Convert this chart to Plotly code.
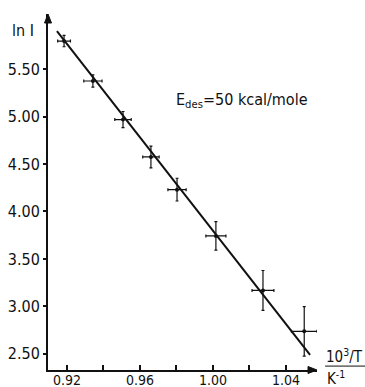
import plotly.graph_objects as go

# data
inv_T = [0.9184, 0.9342, 0.9507, 0.9660, 0.9803, 1.0016, 1.0274, 1.0500]
ln_I = [5.795, 5.374, 4.968, 4.574, 4.230, 3.742, 3.168, 2.737]
err_x = [0.0035, 0.0050, 0.0045, 0.0045, 0.0050, 0.0055, 0.0060, 0.0070]
err_y = [0.060, 0.065, 0.085, 0.115, 0.120, 0.150, 0.210, 0.260]
fit_x = [0.9145, 1.0532]
fit_y = [5.90, 2.49]
y_ticks = [2.5, 3.0, 3.5, 4.0, 4.5, 5.0, 5.5]
y_tick_text = ["2.50", "3.00", "3.50", "4.00", "4.50", "5.00", "5.50"]
x_ticks = [0.92, 0.96, 1.00, 1.04]
x_tick_text = ["0.92", "0.96", "1.00", "1.04"]

FONT = "DejaVu Sans Condensed"
INK = "#111111"
W, H = 365, 387
ML, MR, MT, MB = 48, 48, 14, 17
PW, PH = W - ML - MR, H - MT - MB

fig = go.Figure()
fig.add_trace(go.Scatter(
    x=fit_x, y=fit_y, mode="lines",
    line=dict(color=INK, width=2), showlegend=False, hoverinfo="skip"))
fig.add_trace(go.Scatter(
    x=inv_T, y=ln_I, mode="markers",
    marker=dict(color=INK, size=4),
    error_x=dict(type="data", array=err_x, color=INK, thickness=1.2, width=1.5),
    error_y=dict(type="data", array=err_y, color=INK, thickness=1.2, width=1.5),
    showlegend=False))

fig.update_layout(
    width=W, height=H,
    margin=dict(l=ML, r=MR, t=MT, b=MB),
    paper_bgcolor="white", plot_bgcolor="white",
    font=dict(family=FONT, size=15, color=INK),
    xaxis=dict(range=[0.9096, 1.057], tickvals=x_ticks, ticktext=x_tick_text,
               ticks="inside", ticklen=5, tickwidth=1.5, tickcolor=INK,
               minor=dict(tickvals=[0.94, 0.98, 1.02], ticks="inside", ticklen=5,
                          tickwidth=1.5, tickcolor=INK),
               showline=True, linecolor=INK, linewidth=2, automargin=False,
               showgrid=False, zeroline=False, tickfont=dict(size=14),
               ticklabelstandoff=-4),
    yaxis=dict(range=[2.33, 6.08], tickvals=y_ticks, ticktext=y_tick_text,
               ticks="outside", ticklen=3, tickwidth=1.5, tickcolor=INK,
               showline=True, linecolor=INK, linewidth=2, automargin=False,
               showgrid=False, zeroline=False, tickfont=dict(size=16)),
)

# axis arrowheads (paper coords)
dx, dy = 1.0 / PW, 1.0 / PH
fig.add_shape(type="path", xref="paper", yref="paper",
              path=f"M {-3.5*dx} {1-9*dy} L 0 1 L {3.5*dx} {1-9*dy} Z",
              fillcolor=INK, line=dict(color=INK, width=1))
fig.add_shape(type="path", xref="paper", yref="paper",
              path=f"M {1-9*dx} {3.5*dy} L 1 0 L {1-9*dx} {-3.5*dy} Z",
              fillcolor=INK, line=dict(color=INK, width=1))

# axis labels
fig.add_annotation(xref="paper", yref="paper", x=-0.045, y=0.955, xanchor="right",
                   yanchor="middle", text="ln I", showarrow=False,
                   font=dict(family=FONT, size=16, color=INK))
fig.add_annotation(xref="paper", yref="paper", x=1.025, y=0.04, xanchor="left",
                   yanchor="middle", text="10<sup>3</sup>/T", showarrow=False,
                   font=dict(family=FONT, size=15, color=INK))
fig.add_annotation(xref="paper", yref="paper", x=1.03, y=-0.022, xanchor="left",
                   yanchor="middle", text="K<sup>-1</sup>", showarrow=False,
                   font=dict(family=FONT, size=15, color=INK))
fig.add_shape(type="line", xref="paper", yref="paper", x0=1.03, x1=1.18,
              y0=0.011, y1=0.011, line=dict(color=INK, width=1))
fig.add_annotation(xref="paper", yref="paper", x=0.47, y=0.757, xanchor="left",
                   yanchor="middle",
                   text="E<sub>des</sub>=50 kcal/mole", showarrow=False,
                   font=dict(family=FONT, size=16, color=INK))

fig.write_html("out.html")
